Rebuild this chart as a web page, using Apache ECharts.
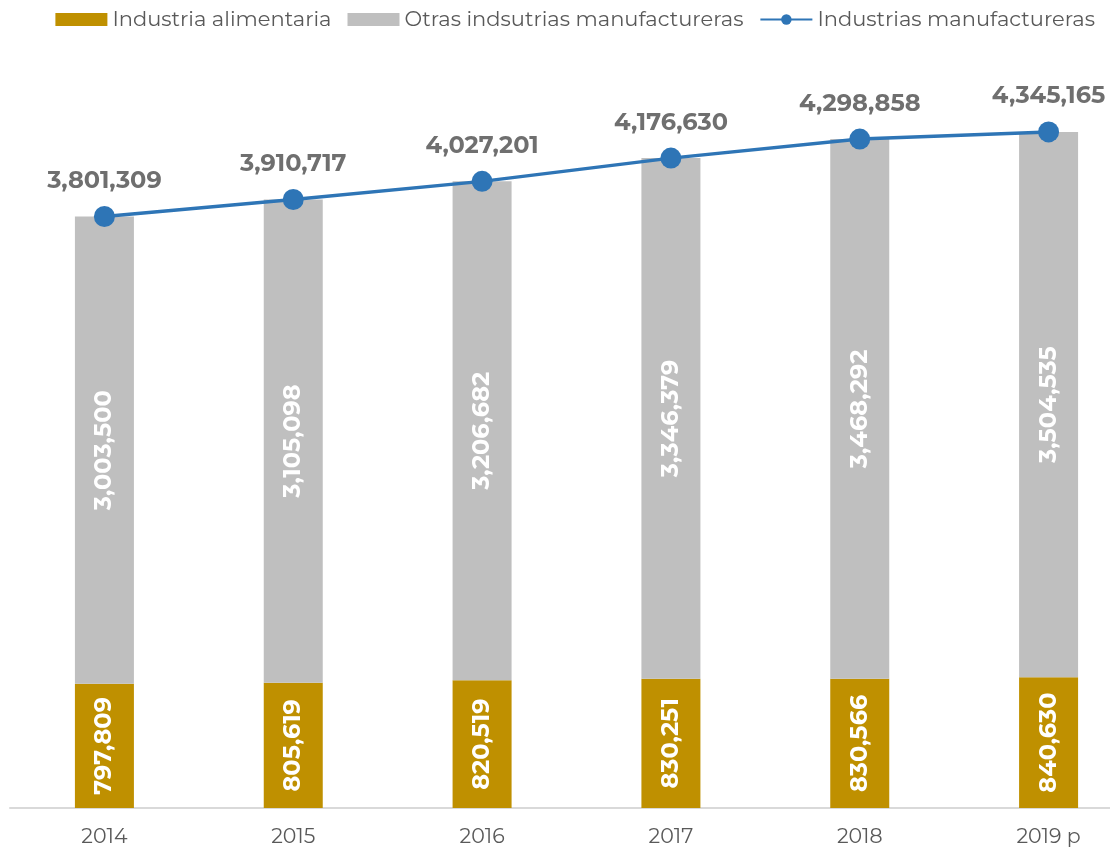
<!DOCTYPE html>
<html>
<head>
    <meta charset="utf-8"/>
    <title>Industrias manufactureras</title>
    <script src="https://cdn.jsdelivr.net/npm/echarts@6/dist/echarts.min.js"></script>
    <style>
        html, body { margin: 0; padding: 0; background: #fff; }
    </style>
</head>
<body>
<div id="main" style="width: 1110px;height:849px;"></div>
<script type="text/javascript">
    // datos
    var years = ['2014', '2015', '2016', '2017', '2018', '2019 p'];
    var alimentaria = [797809, 805619, 820519, 830251, 830566, 840630];
    var otras = [3003500, 3105098, 3206682, 3346379, 3468292, 3504535];
    var total = [3801309, 3910717, 4027201, 4176630, 4298858, 4345165];

    var fmt = function (v) { return v.toLocaleString('en-US'); };
    var fontName = 'Montserrat, "Open Sans", sans-serif';

    var myChart = echarts.init(document.getElementById('main'));
    var option = {
        animation: false,
        textStyle: { fontFamily: fontName },
        legend: {
            top: 4,
            right: 10,
            itemWidth: 52,
            itemHeight: 13,
            itemGap: 16,
            textStyle: { fontSize: 21, color: '#595959' },
            data: [
                { name: 'Industria alimentaria', icon: 'rect' },
                { name: 'Otras indsutrias manufactureras', icon: 'rect' },
                'Industrias manufactureras'
            ]
        },
        grid: { left: 10, top: 30, right: -33, bottom: 41, outerBoundsMode: 'none' },
        xAxis: {
            type: 'category',
            data: years,
            axisLine: { lineStyle: { color: '#d9d9d9', width: 2 } },
            axisTick: { show: false },
            axisLabel: { fontSize: 20.5, color: '#595959', margin: 18 }
        },
        yAxis: {
            type: 'value',
            min: 0,
            max: 5000000,
            show: false,
            splitLine: { show: false }
        },
        series: [
            {
                name: 'Industria alimentaria',
                type: 'bar',
                stack: 'total',
                barWidth: 59,
                itemStyle: { color: '#BF9000' },
                label: {
                    show: true,
                    rotate: 90,
                    position: 'inside',
                    color: '#fff',
                    fontWeight: 'bold',
                    fontSize: 24,
                    formatter: function (p) { return fmt(p.value); }
                },
                data: alimentaria
            },
            {
                name: 'Otras indsutrias manufactureras',
                type: 'bar',
                stack: 'total',
                barWidth: 59,
                itemStyle: { color: '#BFBFBF' },
                label: {
                    show: true,
                    rotate: 90,
                    position: 'inside',
                    color: '#fff',
                    fontWeight: 'bold',
                    fontSize: 24,
                    formatter: function (p) { return fmt(p.value); }
                },
                data: otras
            },
            {
                name: 'Industrias manufactureras',
                type: 'line',
                symbol: 'circle',
                symbolSize: 21,
                lineStyle: { color: '#2E75B6', width: 3.5 },
                itemStyle: { color: '#2E75B6' },
                label: {
                    show: true,
                    position: 'top',
                    distance: 13,
                    color: '#6f6f6f',
                    fontWeight: 'bold',
                    fontSize: 24,
                    formatter: function (p) { return fmt(p.value); }
                },
                data: total
            }
        ]
    };
    myChart.setOption(option);
</script>
</body>
</html>
